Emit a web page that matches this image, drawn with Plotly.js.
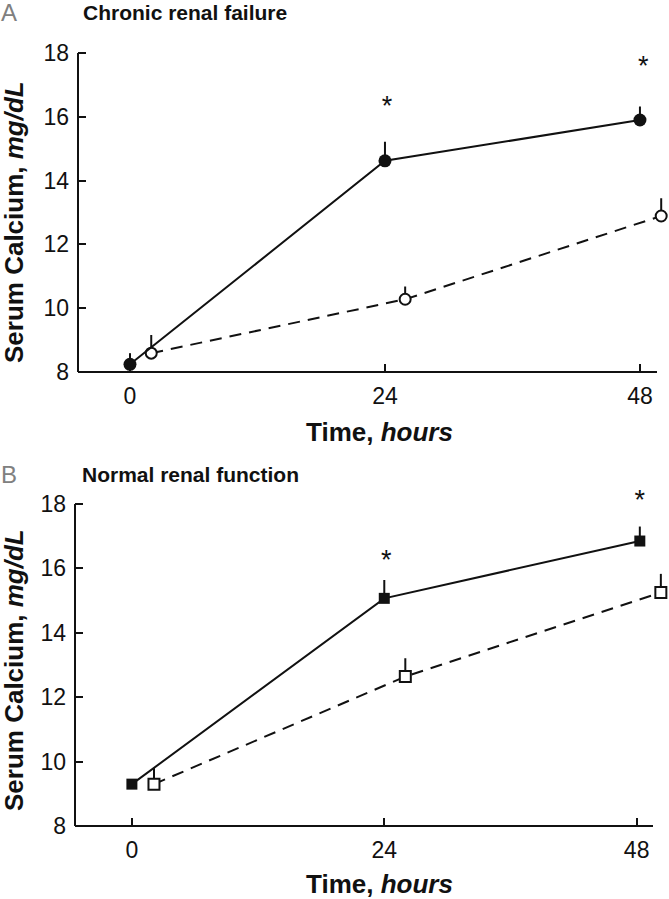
<!DOCTYPE html>
<html>
<head>
<meta charset="utf-8">
<script src="https://cdn.plot.ly/plotly-3.0.1.min.js"></script>
<style>html,body{margin:0;padding:0;background:#fff;}#chart{width:669px;height:899px;}</style>
</head>
<body>
<div id="chart"></div>
<script>
// ---- Data ----
const xTickVals = [0, 24, 48];
const xTickText = ["0", "24", "48"];
const yTickVals = [8, 10, 12, 14, 16, 18];
const yTickText = ["8", "10", "12", "14", "16", "18"];

// Panel A: Chronic renal failure
const timeA_solid = [0, 24, 48];
const caA_solid = [8.24, 14.62, 15.9];
const errA_solid = [0.35, 0.6, 0.42];
const timeA_dash = [2.0, 25.9, 50.0];
const caA_dash = [8.59, 10.28, 12.89];
const errA_dash = [0.57, 0.4, 0.56];
const starTimeA = [24.2, 48.3];
const starValA = [16.26, 17.51];

// Panel B: Normal renal function
const timeB_solid = [0, 24, 48.3];
const caB_solid = [9.3, 15.07, 16.85];
const errB_solid = [0.15, 0.57, 0.45];
const timeB_dash = [2.1, 26.0, 50.3];
const caB_dash = [9.3, 12.64, 15.25];
const errB_dash = [0.5, 0.57, 0.58];
const starTimeB = [24.2, 48.3];
const starValB = [16.18, 18.04];

const titleA = "Chronic renal failure";
const titleB = "Normal renal function";
const yTitle = "Serum Calcium, <i>mg/dL</i>";
const xTitle = "Time, <i>hours</i>";

// ---- Drawing ----
const W = 669, H = 899;
const FONT = "Liberation Sans, Arial, sans-serif";
const zeros = n => n.map(() => 0);
const YTOP = 18.3; // plot area headroom above the 18 tick (axis line drawn to 18 only)

function errBar(arr) {
  return {type: 'data', symmetric: false, array: arr, arrayminus: zeros(arr),
          width: 0, thickness: 2, color: '#111'};
}

function panelTraces(xa, ya, tS, cS, eS, tD, cD, eD, sT, sV, sym) {
  return [
    {x: tD, y: cD, xaxis: xa, yaxis: ya, mode: 'lines+markers', type: 'scatter',
     line: {color: '#111', width: 2, dash: '12px,8px'},
     marker: {symbol: sym, size: 11, color: '#fff', line: {color: '#111', width: 2}},
     error_y: errBar(eD)},
    {x: tS, y: cS, xaxis: xa, yaxis: ya, mode: 'lines+markers', type: 'scatter',
     line: {color: '#111', width: 2},
     marker: {symbol: sym, size: sym === 'circle' ? 13 : 11, color: '#111', line: {color: '#111', width: 0}},
     error_y: errBar(eS)},
    {x: sT, y: sV, xaxis: xa, yaxis: ya, mode: 'text', type: 'scatter', text: sV.map(() => '*'),
     textposition: 'middle center', textfont: {family: FONT, size: 27, color: '#111'}, cliponaxis: false}
  ];
}

const traces = [].concat(
  panelTraces('x', 'y', timeA_solid, caA_solid, errA_solid, timeA_dash, caA_dash, errA_dash, starTimeA, starValA, 'circle'),
  panelTraces('x2', 'y2', timeB_solid, caB_solid, errB_solid, timeB_dash, caB_dash, errB_dash, starTimeB, starValB, 'square')
);

function xAxis(domain, range, anchor) {
  return {domain: domain, range: range, anchor: anchor, showline: false, showgrid: false, zeroline: false,
          tickmode: 'array', tickvals: xTickVals, ticktext: xTickText, ticks: 'inside', ticklen: 8,
          tickwidth: 2, tickcolor: '#111', ticklabelstandoff: 8,
          tickfont: {family: FONT, size: 23, color: '#111'}, fixedrange: true};
}
function yAxis(domain, anchor) {
  return {domain: domain, range: [8, YTOP], anchor: anchor, showline: false,
          showgrid: false, zeroline: false, tickmode: 'array', tickvals: yTickVals, ticktext: yTickText,
          ticks: 'inside', ticklen: 8, tickwidth: 2, tickcolor: '#111', ticklabelstandoff: 8,
          tickfont: {family: FONT, size: 23, color: '#111'}, fixedrange: true};
}

const px = v => v / W;
const py = v => 1 - v / H;
// pixel rows of value 8 and 18 in each panel
const A8 = 372, A18 = 53, B8 = 826, B18 = 504;
const topPx = (p8, p18) => p18 - (YTOP - 18) * (p8 - p18) / 10;

function ann(text, x, y, size, color, extra) {
  return Object.assign({text: text, x: px(x), y: py(y), xref: 'paper', yref: 'paper', showarrow: false,
    xanchor: 'center', yanchor: 'middle', font: {family: FONT, size: size, color: color}}, extra || {});
}

const layout = {
  width: W, height: H, margin: {l: 0, r: 0, t: 0, b: 0},
  paper_bgcolor: '#fff', plot_bgcolor: '#fff', showlegend: false,
  xaxis: xAxis([px(78), px(668)], [-4.894, 50.64], 'y'),
  yaxis: yAxis([py(A8), py(topPx(A8, A18))], 'x'),
  xaxis2: xAxis([px(75), px(668)], [-5.41, 50.98], 'y2'),
  yaxis2: yAxis([py(B8), py(topPx(B8, B18))], 'x2'),
  shapes: [
    {type: 'line', xref: 'x domain', yref: 'y domain', x0: 0, x1: (657 - 78) / (668 - 78), y0: 0, y1: 0,
     line: {color: '#111', width: 2}},
    {type: 'line', xref: 'x domain', yref: 'y', x0: 0, x1: 0, y0: 8, y1: 18,
     line: {color: '#111', width: 2}},
    {type: 'line', xref: 'x2 domain', yref: 'y2 domain', x0: 0, x1: (653 - 75) / (668 - 75), y0: 0, y1: 0,
     line: {color: '#111', width: 2}},
    {type: 'line', xref: 'x2 domain', yref: 'y2', x0: 0, x1: 0, y0: 8, y1: 18,
     line: {color: '#111', width: 2}}
  ],
  annotations: [
    ann('A', 9, 13, 24, '#808080'),
    ann('<b>' + titleA + '</b>', 81, 13, 21, '#111', {xanchor: 'left'}),
    ann('<b>' + yTitle + '</b>', 14, 222, 26, '#111', {textangle: -90}),
    ann('<b>' + xTitle + '</b>', 379, 432, 26, '#111'),
    ann('B', 9, 475, 24, '#808080'),
    ann('<b>' + titleB + '</b>', 80, 475, 21, '#111', {xanchor: 'left'}),
    ann('<b>' + yTitle + '</b>', 14, 670, 26, '#111', {textangle: -90}),
    ann('<b>' + xTitle + '</b>', 379, 884, 26, '#111')
  ]
};

Plotly.newPlot('chart', traces, layout, {staticPlot: true, displayModeBar: false});
</script>
</body>
</html>
